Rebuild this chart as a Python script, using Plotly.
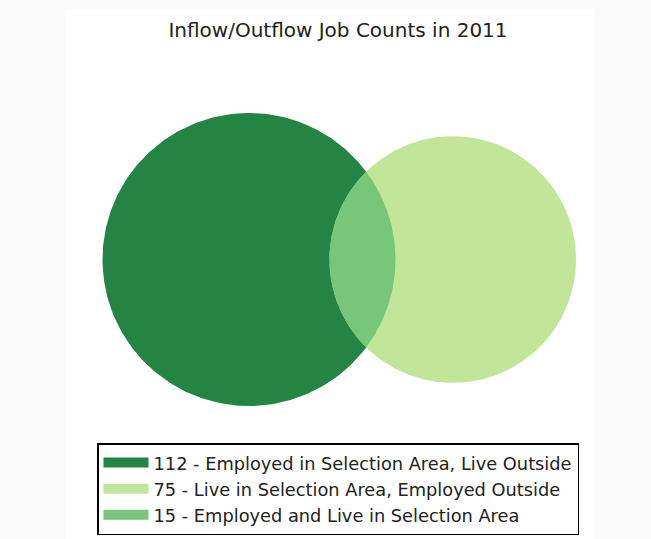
import numpy as np
import plotly.graph_objects as go

# ---- data ----
title_text = "Inflow/Outflow Job Counts in 2011"
counts = [112, 75, 15]          # A only, B only, A∩B
labels = [
    "112 - Employed in Selection Area, Live Outside",
    "75 - Live in Selection Area, Employed Outside",
    "15 - Employed and Live in Selection Area",
]
colors = ["#238443", "#c2e699", "#78c679"]

# ---- area-proportional venn geometry ----
area_a = counts[0] + counts[2]
area_b = counts[1] + counts[2]
area_ab = counts[2]
r1 = np.sqrt(area_a / np.pi)
r2 = np.sqrt(area_b / np.pi)


def lens_area(d, ra, rb):
    if d >= ra + rb:
        return 0.0
    if d <= abs(ra - rb):
        return np.pi * min(ra, rb) ** 2
    c1 = np.clip((d * d + ra * ra - rb * rb) / (2 * d * ra), -1, 1)
    c2 = np.clip((d * d + rb * rb - ra * ra) / (2 * d * rb), -1, 1)
    t = (-d + ra + rb) * (d + ra - rb) * (d - ra + rb) * (d + ra + rb)
    return ra * ra * np.arccos(c1) + rb * rb * np.arccos(c2) - 0.5 * np.sqrt(max(t, 0))


lo, hi = abs(r1 - r2), r1 + r2
for _ in range(200):
    mid = 0.5 * (lo + hi)
    if lens_area(mid, r1, r2) > area_ab:
        lo = mid
    else:
        hi = mid
d = 0.5 * (lo + hi)

x0 = (d * d + r1 * r1 - r2 * r2) / (2 * d)
h = np.sqrt(r1 * r1 - x0 * x0)
alpha = np.arctan2(h, x0)
beta = np.arctan2(h, x0 - d)

t = np.linspace(0, 2 * np.pi, 361)
ax_, ay_ = r1 * np.cos(t), r1 * np.sin(t)
bx_, by_ = d + r2 * np.cos(t), r2 * np.sin(t)
ta = np.linspace(-alpha, alpha, 120)
tb = np.linspace(beta, 2 * np.pi - beta, 120)
lx = np.concatenate([r1 * np.cos(ta), d + r2 * np.cos(tb)])
ly = np.concatenate([r1 * np.sin(ta), r2 * np.sin(tb)])

fig = go.Figure()
for xs, ys, col in [(ax_, ay_, colors[0]), (bx_, by_, colors[1]), (lx, ly, colors[2])]:
    fig.add_trace(go.Scatter(x=xs, y=ys, mode="lines", fill="toself",
                             fillcolor=col, line=dict(width=0, color=col),
                             showlegend=False, hoverinfo="skip"))
# legend entries (patches)
for col, lab in zip(colors, labels):
    fig.add_trace(go.Scatter(x=[None], y=[None], mode="lines",
                             line=dict(width=14, color=col), name=lab,
                             hoverinfo="skip"))

# ---- layout ----
W, H = 651, 539
ml, mr, mt, mb = 65, 56, 9, 0
pw, ph = W - ml - mr, H - mt - mb
cx_px, cy_px, r1_px = 249.0, 259.5, 146.5
s = r1_px / r1
xr = [(ml - cx_px) / s, (W - mr - cx_px) / s]
yr = [-(H - mb - cy_px) / s, (cy_px - mt) / s]

fig.update_layout(
    width=W, height=H,
    autosize=False,
    margin=dict(l=ml, r=mr, t=mt, b=mb, pad=0, autoexpand=False),
    paper_bgcolor="#fafafa",
    plot_bgcolor="#ffffff",
    font=dict(family="DejaVu Sans", color="#222222"),
    title=dict(text=title_text, xref="paper", yref="container",
               x=(338 - ml) / pw, y=1 - 30 / H, xanchor="center", yanchor="middle",
               font=dict(size=20, family="DejaVu Sans", color="#222222")),
    xaxis=dict(range=xr, visible=False, showgrid=False, zeroline=False,
               fixedrange=True, domain=[0, 1]),
    yaxis=dict(range=yr, visible=False, showgrid=False, zeroline=False,
               scaleanchor="x", scaleratio=1, fixedrange=True, domain=[0, 1]),
    legend=dict(xref="paper", yref="paper", x=(97 - ml) / pw, y=(H - 443) / ph,
                xanchor="left", yanchor="top",
                bgcolor="#ffffff", bordercolor="#000000", borderwidth=1.5,
                font=dict(size=17.8, family="DejaVu Sans", color="#222222"),
                itemwidth=45, tracegroupgap=0),
    showlegend=True,
)

fig.write_html("out.html", config={"responsive": False, "displayModeBar": False},
               post_script="document.body.style.margin='0';document.body.style.padding='0';")
